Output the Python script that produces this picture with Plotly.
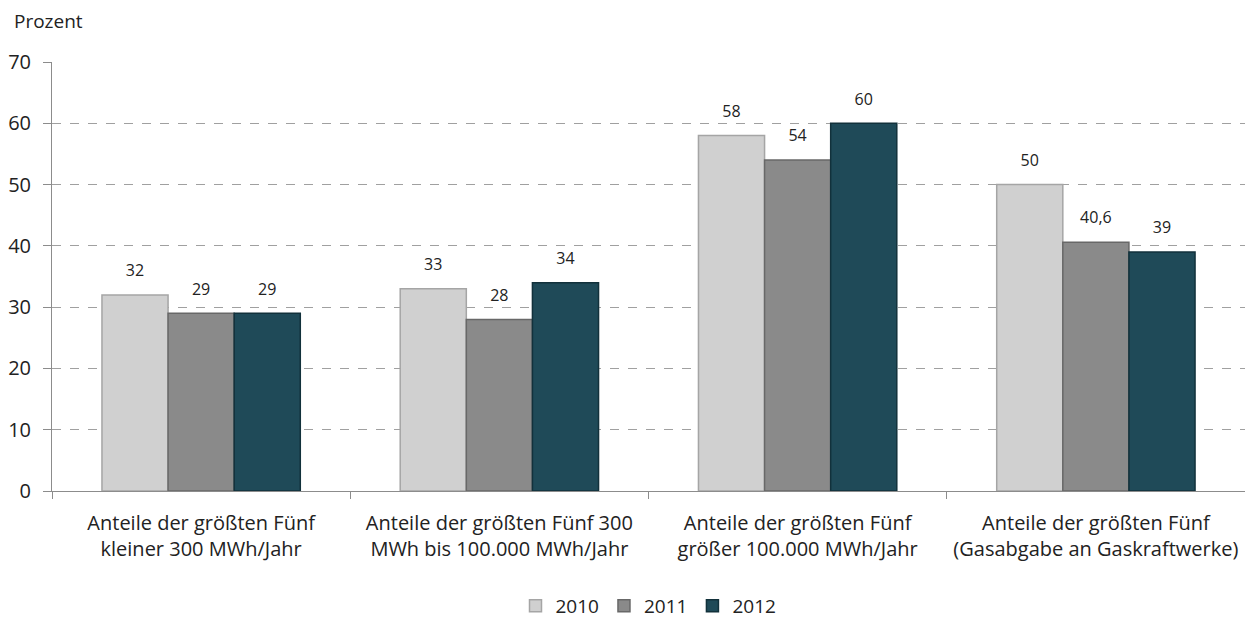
import plotly.graph_objects as go

categories = [
    "Anteile der größten Fünf<br>kleiner 300 MWh/Jahr",
    "Anteile der größten Fünf 300<br>MWh bis 100.000 MWh/Jahr",
    "Anteile der größten Fünf<br>größer 100.000 MWh/Jahr",
    "Anteile der größten Fünf<br>(Gasabgabe an Gaskraftwerke)",
]
years = ["2010", "2011", "2012"]
values_2010 = [32, 33, 58, 50]
values_2011 = [29, 28, 54, 40.6]
values_2012 = [29, 34, 60, 39]

series = [values_2010, values_2011, values_2012]
colors = ["#d0d0d0", "#8a8a8a", "#1f4a58"]
edges = ["#a5a5a5", "#686868", "#12313b"]

font_family = "Open Sans, DejaVu Sans, sans-serif"

fig = go.Figure()
for year, vals, col, edge in zip(years, series, colors, edges):
    fig.add_trace(go.Bar(
        x=categories, y=vals, name=year,
        marker=dict(color=col, line=dict(color=edge, width=1.5)),
        hoverinfo="x+y+name",
    ))

# value labels: invisible markers in grouped scatter mode push the text up a bit
for year, vals in zip(years, series):
    fig.add_trace(go.Scatter(
        x=categories, y=vals, mode="markers+text", showlegend=False,
        text=[str(v).replace(".", ",") for v in vals],
        textposition="top center",
        textfont=dict(size=16, color="#222222"),
        marker=dict(size=22, opacity=0),
        hoverinfo="skip", cliponaxis=False,
    ))

# the page body adds an 8px margin, so the figure is sized to fit the window
fig.update_layout(
    width=1245, height=610,
    barmode="group", bargap=0.335, bargroupgap=0,
    scattermode="group", scattergap=0.335,
    plot_bgcolor="white", paper_bgcolor="white",
    font=dict(family=font_family, size=20, color="#222222"),
    margin=dict(l=44, r=8, t=54, b=127, autoexpand=False),
    legend=dict(orientation="h", x=0.5, xanchor="center", y=-0.268, yanchor="middle",
                font=dict(size=19), itemwidth=30, traceorder="normal"),
    annotations=[dict(text="Prozent", xref="paper", yref="paper", x=-0.0335, y=1.096,
                      xanchor="left", yanchor="middle", showarrow=False,
                      font=dict(size=19, color="#222222"))],
)
fig.update_yaxes(range=[0, 70], dtick=10, showgrid=True, gridcolor="#a0a0a0",
                 griddash="dash", gridwidth=1, zeroline=False,
                 showline=True, linecolor="#8c8c8c", ticks="outside",
                 ticklen=8, tickcolor="#8c8c8c", tickfont=dict(size=20),
                 ticklabelstandoff=8, automargin=False)
fig.update_xaxes(showline=True, linecolor="#8c8c8c", ticks="outside",
                 tickson="boundaries", ticklen=7, tickcolor="#8c8c8c",
                 tickfont=dict(size=20), ticklabelstandoff=14, automargin=False)

fig.write_html("out.html")
